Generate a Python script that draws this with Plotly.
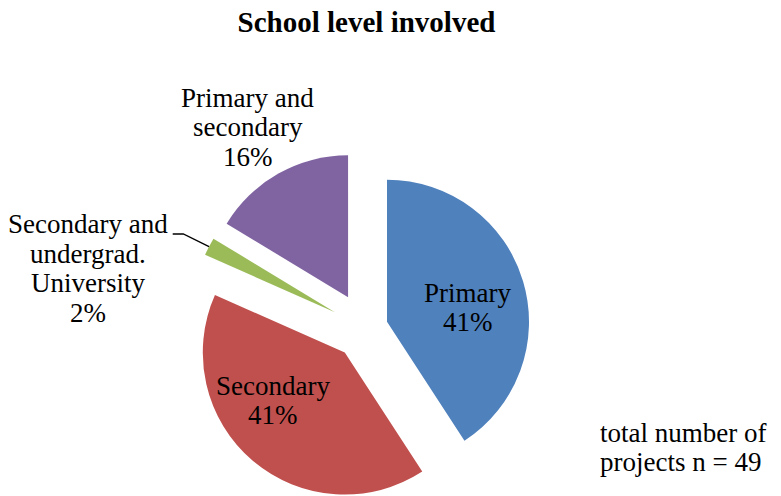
import math
import plotly.graph_objects as go

# ---- data -------------------------------------------------------------
categories = ["Primary", "Secondary", "Secondary and undergrad. University", "Primary and secondary"]
projects = [20, 20, 1, 8]
label_lines = [
    ["Primary"],
    ["Secondary"],
    ["Secondary and", "undergrad.", "University"],
    ["Primary and", "secondary"],
]
title_text = "School level involved"
note_lines = ["total number of", "projects n = 49"]

# ---- style ------------------------------------------------------------
colors = ["#4F81BD", "#C0504D", "#9BBB59", "#8064A2"]
explode = [0.158, 0.225, 0.243, 0.25]   # slice offset as a fraction of the radius
W, H = 781, 496
R = 142.0                # pie radius (px)
CX, CY = 365.5, 328.2    # pie centre before exploding (px)
FONT = "Liberation Serif"
FS = 27
LINE = 29.5


def px(x):
    return x / W


def py(y):
    return 1 - y / H


total = sum(projects)
fig = go.Figure()

# One pie per exploded slice: same values and rotation, only slice i is
# painted, and the pie is shifted outward along the slice's bisector.
cum = 0
mids = []
for i, v in enumerate(projects):
    mid = (cum + v / 2) / total * 2 * math.pi
    mids.append(mid)
    cum += v
    dx = explode[i] * R * math.sin(mid)
    dy = -explode[i] * R * math.cos(mid)
    cx, cy = CX + dx, CY + dy
    fig.add_trace(go.Pie(
        labels=categories,
        values=projects,
        sort=False,
        direction="clockwise",
        rotation=0,
        marker=dict(colors=[c if j == i else "rgba(0,0,0,0)" for j, c in enumerate(colors)],
                    line=dict(width=0)),
        textinfo="none",
        hoverinfo="label+value+percent",
        showlegend=False,
        domain=dict(x=[px(cx - R), px(cx + R)],
                    y=[max(0, py(cy + R)), min(1, py(cy - R))]),
    ))

pct = [f"{round(v / total * 100)}%" for v in projects]


def add_lines(lines, x, first_base, anchor="center"):
    for k, t in enumerate(lines):
        fig.add_annotation(
            x=px(x), y=py(first_base + k * LINE - 0.34 * FS),
            xref="paper", yref="paper", text=t, showarrow=False,
            xanchor=anchor, yanchor="middle",
            font=dict(family=FONT, size=FS, color="#000000"),
        )


# label positions (centre x, first baseline)
label_pos = [(467.5, 301.7), (273.0, 395.0), (87.5, 233.3), (248.0, 106.7)]
for i in range(len(categories)):
    add_lines(label_lines[i] + [pct[i]], *label_pos[i])

# leader line for the thin slice
gm = mids[2]
gx = CX + (1 + explode[2]) * R * math.sin(gm)
gy = CY - (1 + explode[2]) * R * math.cos(gm)
fig.add_shape(
    type="path",
    path=f"M {px(172.7)} {py(234)} L {px(183.3)} {py(234)} L {px(gx)} {py(gy)}",
    xref="paper", yref="paper",
    line=dict(color="#000000", width=1.3),
)

add_lines(note_lines, 598, 442, anchor="left")

fig.update_layout(
    width=W, height=H,
    margin=dict(l=0, r=0, t=0, b=0),
    paper_bgcolor="#FFFFFF",
    plot_bgcolor="#FFFFFF",
    title=dict(text=f"<b>{title_text}</b>", x=px(366.5), xanchor="center",
               y=py(22), yanchor="middle",
               font=dict(family=FONT, size=29, color="#000000")),
)

fig.write_html("out.html")
